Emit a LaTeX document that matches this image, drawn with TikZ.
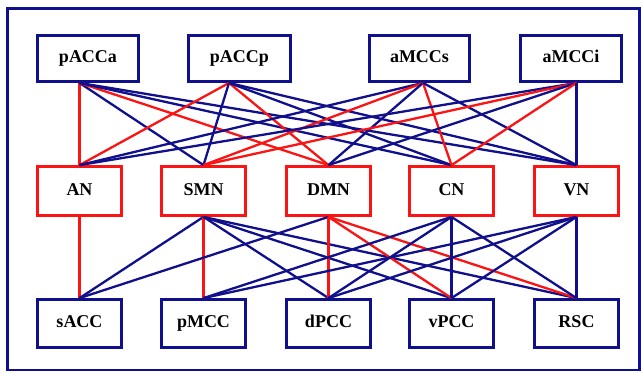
\documentclass[tikz,border=0pt]{standalone}
\usepackage{fontspec}
\setmainfont{Liberation Serif}
\definecolor{nb}{RGB}{16,16,140}
\definecolor{rd}{RGB}{250,20,20}
\begin{document}
\begin{tikzpicture}[x=1pt,y=-1pt,
  box/.style={draw,line width=2.8pt,inner sep=0pt,text height=12pt,text depth=4pt,font=\fontsize{18}{18}\selectfont\bfseries},
  topbox/.style={box,draw=nb,text=black,minimum width=101pt,minimum height=46pt},
  midbox/.style={box,draw=rd,text=black,minimum width=84pt,minimum height=49pt},
  botbox/.style={box,draw=nb,text=black,minimum width=84pt,minimum height=48pt},
  bl/.style={nb,line width=2.3pt},
  rl/.style={rd,line width=2.3pt}]
\useasboundingbox (0,0) rectangle (641,373);
\draw[nb,line width=2.6pt] (7.5,8.5) rectangle (639.5,370);
% top row
\node[topbox] (pACCa) at (88,58.5) {pACCa};
\node[topbox,minimum width=102pt] (pACCp) at (239.5,58.5) {pACCp};
\node[topbox,minimum width=100pt] (aMCCs) at (419.5,58.5) {aMCCs};
\node[topbox] (aMCCi) at (571,58.5) {aMCCi};
% middle row
\node[midbox] (AN) at (79.5,191) {AN};
\node[midbox] (SMN) at (203.5,191) {SMN};
\node[midbox] (DMN) at (328.5,191) {DMN};
\node[midbox] (CN) at (451.5,191) {CN};
\node[midbox] (VN) at (576.5,191) {VN};
% bottom row
\node[botbox] (sACC) at (79.5,323.5) {sACC};
\node[botbox] (pMCC) at (203.5,323.5) {pMCC};
\node[botbox] (dPCC) at (328.5,323.5) {dPCC};
\node[botbox] (vPCC) at (451.5,323.5) {vPCC};
\node[botbox] (RSC) at (576.5,323.5) {RSC};
% anchors
\coordinate (ta) at ([xshift=-8.5pt]pACCa.south);
\coordinate (tb) at ([xshift=-10.5pt]pACCp.south);
\coordinate (tc) at ([xshift=3.5pt]aMCCs.south);
\coordinate (td) at ([xshift=5.5pt]aMCCi.south);
% top -> middle
\draw[rl] (ta) -- (AN.north);
\draw[bl] (ta) -- (SMN.north);
\draw[rl] (ta) -- (DMN.north);
\draw[bl] (ta) -- (CN.north);
\draw[bl] (ta) -- (VN.north);
\draw[rl] (tb) -- (AN.north);
\draw[bl] (tb) -- (SMN.north);
\draw[rl] (tb) -- (DMN.north);
\draw[bl] (tb) -- (CN.north);
\draw[bl] (tb) -- (VN.north);
\draw[bl] (tc) -- (AN.north);
\draw[rl] (tc) -- (SMN.north);
\draw[bl] (tc) -- (DMN.north);
\draw[rl] (tc) -- (CN.north);
\draw[bl] (tc) -- (VN.north);
\draw[bl] (td) -- (AN.north);
\draw[rl] (td) -- (SMN.north);
\draw[bl] (td) -- (DMN.north);
\draw[rl] (td) -- (CN.north);
\draw[bl] (td) -- (VN.north);
% middle -> bottom
\draw[rl] (AN.south) -- (sACC.north);
\draw[bl] (SMN.south) -- (sACC.north);
\draw[rl] (SMN.south) -- (pMCC.north);
\draw[bl] (SMN.south) -- (dPCC.north);
\draw[bl] (SMN.south) -- (vPCC.north);
\draw[bl] (SMN.south) -- (RSC.north);
\draw[bl] (DMN.south) -- (sACC.north);
\draw[rl] (DMN.south) -- (dPCC.north);
\draw[rl] (DMN.south) -- (vPCC.north);
\draw[rl] (DMN.south) -- (RSC.north);
\draw[bl] (CN.south) -- (pMCC.north);
\draw[bl] (CN.south) -- (dPCC.north);
\draw[bl] (CN.south) -- (vPCC.north);
\draw[bl] (CN.south) -- (RSC.north);
\draw[bl] (VN.south) -- (pMCC.north);
\draw[bl] (VN.south) -- (dPCC.north);
\draw[bl] (VN.south) -- (vPCC.north);
\draw[bl] (VN.south) -- (RSC.north);
\end{tikzpicture}
\end{document}
